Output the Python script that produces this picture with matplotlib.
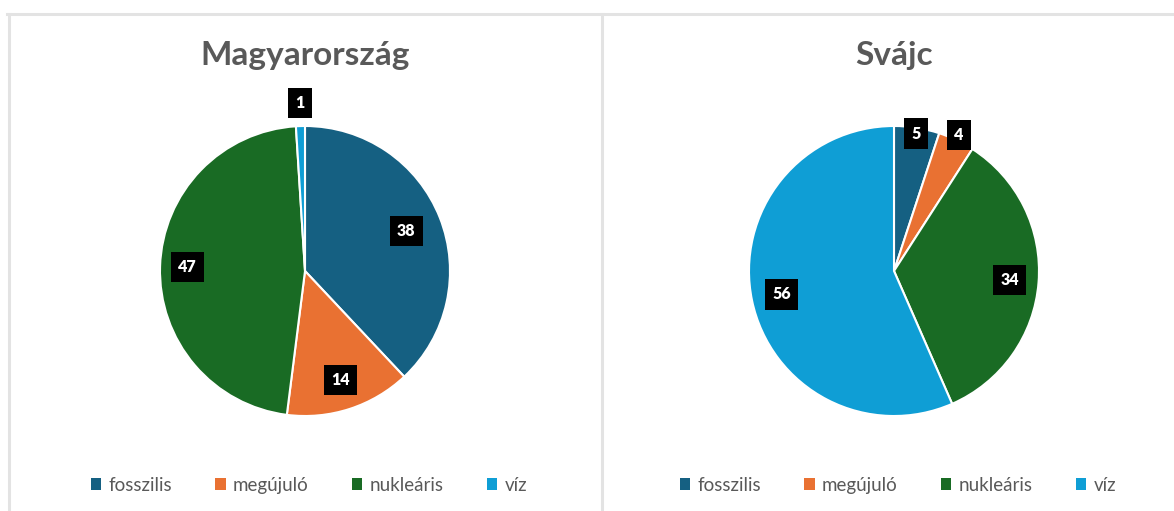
import matplotlib
matplotlib.use("Agg")
import matplotlib.pyplot as plt
from matplotlib.patches import Patch
from matplotlib.lines import Line2D
import numpy as np

categories = ["fosszilis", "megújuló", "nukleáris", "víz"]
titles = ["Magyarország", "Svájc"]
hu_values = [38, 14, 47, 1]
ch_values = [5, 4, 34, 56]
colors = ["#156082", "#E97132", "#196B24", "#0F9ED5"]

W, H = 1174, 511
fig = plt.figure(figsize=(W / 100, H / 100), dpi=100)
fig.patch.set_facecolor("white")

FONT = ["Lato", "DejaVu Sans"]
GRAY = "#595959"

# frame lines (spreadsheet-like borders)
def fline(xs, ys, color="#e3e3e3", lw=2.2):
    fig.add_artist(Line2D([x / W for x in xs], [1 - y / H for y in ys],
                          transform=fig.transFigure, color=color, lw=lw))

fline([7, W], [14, 14])
fline([9, 9], [14, H])
fline([602, 602], [14, H])

centers = [(305, 271), (894, 271)]
radius = 145
label_r = [[0.75, 0.79, 0.81, 1.16], [0.96, 1.04, 0.80, 0.79]]
datasets = [hu_values, ch_values]

for i, vals in enumerate(datasets):
    cx, cy = centers[i]
    ax = fig.add_axes([(cx - radius) / W, (H - cy - radius) / H,
                       2 * radius / W, 2 * radius / H])
    wedges, _ = ax.pie(vals, colors=colors, startangle=90, counterclock=False,
                       radius=1.0,
                       wedgeprops=dict(edgecolor="white", linewidth=1.5))
    ax.set_xlim(-1, 1)
    ax.set_ylim(-1, 1)
    ax.set_aspect("equal")
    ax.axis("off")
    for w, v, r in zip(wedges, vals, label_r[i]):
        ang = np.deg2rad((w.theta1 + w.theta2) / 2)
        ax.text(r * np.cos(ang), r * np.sin(ang), str(v), ha="center",
                va="center", color="white", fontsize=11.5, fontweight="heavy",
                family=FONT, clip_on=False,
                bbox=dict(boxstyle="square,pad=0.45", fc="black", ec="none"))
    fig.text(cx / W, 1 - 55 / H, titles[i], ha="center", va="center",
             fontsize=24, fontweight="bold", color=GRAY, family=FONT)
    handles = [Patch(facecolor=c, edgecolor="none") for c in colors]
    fig.legend(handles, categories, loc="center",
               bbox_to_anchor=((cx + 4) / W, 1 - 485 / H), ncol=4,
               frameon=False, handlelength=0.55, handleheight=0.55,
               handletextpad=0.4, columnspacing=2.3,
               prop=dict(family=FONT, size=13.5), labelcolor=GRAY)

fig.savefig("out.png", dpi=100, facecolor="white")
